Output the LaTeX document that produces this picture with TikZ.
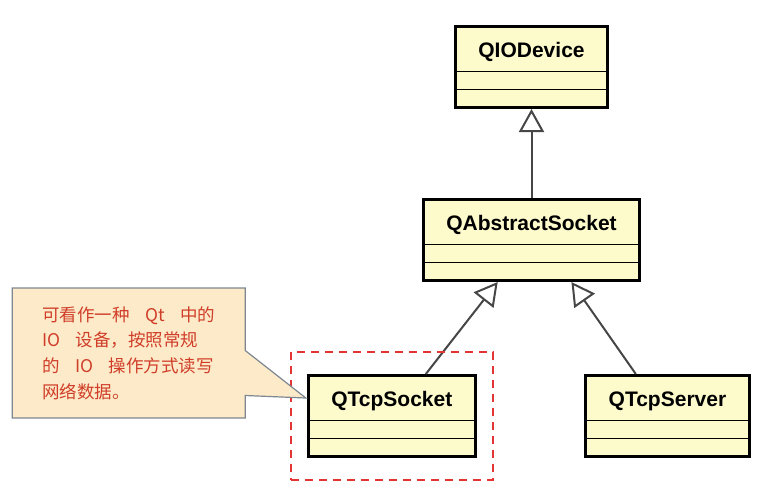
\documentclass[tikz,border=0pt]{standalone}
\usepackage{fontspec}
\usepackage{tikz}
\usetikzlibrary{positioning,arrows.meta,shapes.multipart,shapes.callouts,fit,calc}
\newfontfamily\umlfont{Liberation Sans}
\newfontfamily\cjkfont[WordSpace=4]{Noto Sans CJK SC}
\definecolor{classfill}{RGB}{253,250,204}
\definecolor{notefill}{RGB}{252,234,200}
\definecolor{noterule}{RGB}{125,135,145}
\definecolor{notetext}{RGB}{208,62,42}
\definecolor{markred}{RGB}{228,52,52}
\definecolor{linkgray}{RGB}{70,70,70}
\newcommand{\titlestrut}{\rule[-10pt]{0pt}{36pt}}
\tikzset{
  umlclass/.style={rectangle split,rectangle split parts=3,rectangle split draw splits=false,draw=black,line width=3pt,fill=classfill,inner xsep=23pt,inner ysep=3pt,rectangle split empty part height=9pt,font=\umlfont\bfseries\fontsize{21}{25}\selectfont},
  note/.style={rectangle callout,draw=noterule,line width=1.2pt,fill=notefill,text=notetext,align=left,minimum width=233pt,minimum height=130pt,callout pointer width=45pt,font=\cjkfont\fontsize{17.5}{25.7}\selectfont},
  focus/.style={draw=markred,line width=2pt,dash pattern=on 8pt off 6pt,inner xsep=16pt,inner ysep=22pt},
  inherit/.style={-{Triangle[length=23pt,width=25pt,fill=white]},draw=linkgray,line width=2pt}
}

\begin{document}
\begin{tikzpicture}
  \useasboundingbox (0,0) rectangle (774pt,-496pt);
  \node[umlclass,anchor=north] (iodevice) at (531.5pt,-25pt) {\titlestrut QIODevice};
  \node[umlclass,below=89pt of iodevice] (abstract) {\titlestrut QAbstractSocket};
  \node[umlclass,below left=92pt and -55pt of abstract] (tcpsocket) {\titlestrut QTcpSocket};
  \node[umlclass,below right=92pt and -57pt of abstract] (tcpserver) {\titlestrut QTcpServer};
  \foreach \cls in {iodevice,abstract,tcpsocket,tcpserver}{
    \draw[line width=1.5pt] (\cls.text split west) -- (\cls.text split east);
    \draw[line width=1.5pt] (\cls.two split west) -- (\cls.two split east);
  }
  % generalisation arrows
  \draw[inherit] (abstract) -- (iodevice);
  \draw[inherit] ($(tcpsocket.north west)!0.70!(tcpsocket.north east)$) -- ($(abstract.south west)!0.346!(abstract.south east)$);
  \draw[inherit] ($(tcpserver.north west)!0.31!(tcpserver.north east)$) -- ($(abstract.south west)!0.682!(abstract.south east)$);
  % highlight and remark
  \node[focus,fit=(tcpsocket)] (sockmark) {};
  \node[note,left=61pt of tcpsocket.north west,yshift=21pt,callout absolute pointer={($(tcpsocket.north west)+(-1pt,-24pt)$)}] (remark) {可看作一种 Qt 中的\\IO 设备，按照常规\\的 IO 操作方式读写\\网络数据。};
\end{tikzpicture}
\end{document}
